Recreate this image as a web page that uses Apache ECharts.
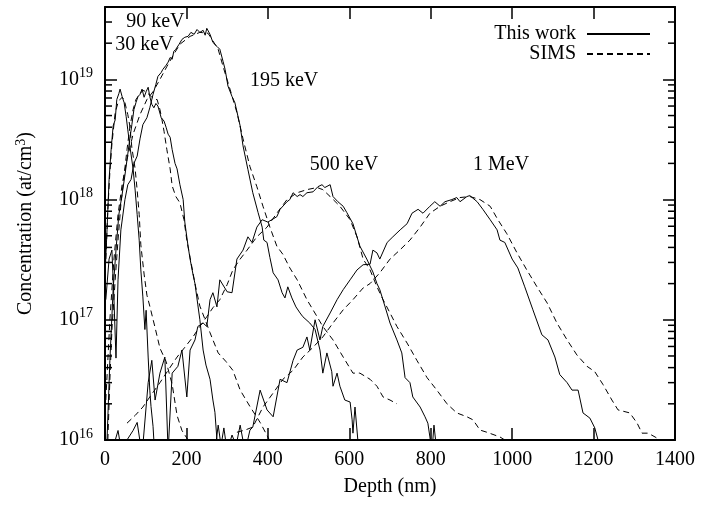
<!DOCTYPE html>
<html>
<head>
<meta charset="utf-8">
<script src="https://cdn.jsdelivr.net/npm/echarts@6/dist/echarts.min.js"></script>
<style>
  html, body { margin: 0; padding: 0; background: #fff; }
  #chart { width: 714px; height: 507px; }
</style>
</head>
<body>
<div id="chart"></div>
<script>
// Arsenic depth profiles: [depth (nm), concentration (at/cm^3)]
const thisWork30 = [[0,2.4e17],[5,5.6e17],[10,1.47e18],[15,2.6e18],[20,4.1e18],[25,4.6e18],[29,6.8e18],[34,7.6e18],[37,8.3e18],[42,7.2e18],[47,6.4e18],[52,4.9e18],[56,3.8e18],[61,2.8e18],[69,1.8e18],[74,1.2e18],[79,7.5e17],[84,4.6e17],[88,2.6e17],[93,1.55e17],[98,8.3e16],[101,1.2e17],[106,4.9e16],[110,2.6e16],[113,1.9e16],[118,1.3e16],[120,1.0e16],[125,8e15]];
const sims30 = [[2,3.2e17],[7,8.3e17],[12,1.7e18],[17,2.9e18],[25,5.3e18],[32,6.4e18],[37,6.8e18],[42,7.1e18],[47,6.8e18],[52,5.8e18],[56,5.1e18],[61,4.1e18],[66,2.7e18],[74,1.8e18],[79,1.2e18],[84,7.5e17],[88,4.2e17],[96,2.4e17],[103,1.6e17],[110,1.3e17],[123,8.6e16],[135,5.8e16],[150,4.5e16],[165,2.9e16],[177,1.6e16],[189,1.2e16],[204,1.0e16]];

const thisWork90 = [[5,1.0e16],[12,4.6e16],[20,1.8e17],[27,3.8e17],[34,7.5e17],[42,1.1e18],[49,1.6e18],[56,2.4e18],[61,3.2e18],[66,4.2e18],[71,5.6e18],[76,6.4e18],[81,7.2e18],[86,7.5e18],[91,8.3e18],[96,7.1e18],[101,7.9e18],[106,8.6e18],[110,7.2e18],[115,6.2e18],[120,5.8e18],[125,6.3e18],[130,6.0e18],[138,4.8e18],[145,4.5e18],[150,4.0e18],[155,3.5e18],[160,3.3e18],[165,2.6e18],[172,2.0e18],[177,1.8e18],[184,1.33e18],[192,1.0e18],[196,6.5e17],[204,4.1e17],[209,3.2e17],[216,2.4e17],[221,2.0e17],[228,1.33e17],[233,1.0e17],[241,5.6e16],[248,4.2e16],[258,3.2e16],[265,2.15e16],[270,1.7e16],[275,1.0e16],[278,7.5e15]];
const sims90 = [[7,1.0e16],[12,3.2e16],[17,8.3e16],[25,2.15e17],[32,4.6e17],[39,9.1e17],[47,1.6e18],[54,2.6e18],[61,4.0e18],[69,5.6e18],[76,6.8e18],[86,7.6e18],[93,8.1e18],[101,7.9e18],[108,7.5e18],[115,7.1e18],[123,6.8e18],[128,6.8e18],[135,5.6e18],[140,4.6e18],[145,3.7e18],[152,2.6e18],[160,1.8e18],[165,1.3e18],[174,1.06e18],[184,9.4e17],[194,6.8e17],[201,4.6e17],[209,3.3e17],[221,2.0e17],[233,1.3e17],[246,1.0e17],[258,7.8e16],[278,5.3e16],[297,4.5e16],[314,3.8e16],[332,2.6e16],[356,1.9e16],[381,1.4e16],[400,1.06e16],[405,9.8e15]];

const thisWork195 = [[2,1.47e17],[10,3.2e17],[17,3.8e17],[22,1.47e17],[27,4.8e16],[32,2.15e17],[39,5.6e17],[49,1.0e18],[56,1.33e18],[64,1.47e18],[71,2.0e18],[79,2.3e18],[86,3.2e18],[93,4.2e18],[103,4.8e18],[110,5.8e18],[118,7.5e18],[125,9.1e18],[130,1.06e19],[138,1.14e19],[142,1.21e19],[150,1.31e19],[155,1.39e19],[160,1.52e19],[165,1.47e19],[169,1.71e19],[174,1.78e19],[182,1.96e19],[189,2.15e19],[196,2.24e19],[204,2.28e19],[211,2.46e19],[219,2.37e19],[226,2.6e19],[233,2.46e19],[241,2.56e19],[246,2.33e19],[250,2.66e19],[258,2.37e19],[265,2.03e19],[275,1.88e19],[282,1.78e19],[290,1.41e19],[295,1.21e19],[302,8.8e18],[312,7.2e18],[319,6.4e18],[332,4.1e18],[339,2.8e18],[351,1.78e18],[363,1.14e18],[376,7.8e17],[386,5.9e17],[390,4.6e17],[398,4.4e17],[405,3.3e17],[413,2.46e17],[425,2.15e17],[435,1.68e17],[442,1.52e17],[449,1.88e17],[459,1.52e17],[469,1.28e17],[479,1.14e17],[486,1.06e17],[503,9.4e16],[516,8.3e16],[528,5.6e16],[535,3.6e16],[545,5.3e16],[557,3.7e16],[560,2.8e16],[570,3.6e16],[577,2.8e16],[589,2.15e16],[602,2.07e16],[607,1.47e16],[609,1.14e16],[614,1.88e16],[621,1.0e16],[624,7.5e15]];
const sims195 = [[2,2.15e16],[12,1.0e17],[22,3.2e17],[32,7.5e17],[42,1.33e18],[54,2.15e18],[69,3.5e18],[86,5.1e18],[103,6.8e18],[118,7.9e18],[135,1.0e19],[152,1.28e19],[169,1.62e19],[184,1.96e19],[209,2.28e19],[233,2.46e19],[253,2.42e19],[258,2.28e19],[278,1.78e19],[290,1.28e19],[307,8.3e18],[324,5.3e18],[339,3.2e18],[356,1.88e18],[373,1.28e18],[388,8.8e17],[405,5.9e17],[422,4.1e17],[437,3.5e17],[454,2.7e17],[472,2.15e17],[496,1.47e17],[521,1.06e17],[535,8.8e16],[560,6.8e16],[585,4.9e16],[609,3.6e16],[626,3.6e16],[651,3.2e16],[668,2.8e16],[683,2.28e16],[700,2.15e16],[717,2.0e16]];

const thisWork500 = [[17,8e15],[32,1.2e16],[42,7.5e15],[54,1.0e16],[69,1.2e16],[79,1.4e16],[91,7.5e15],[106,3.0e16],[115,4.6e16],[123,2.15e16],[135,3.6e16],[147,4.9e16],[155,8e15],[165,3.6e16],[179,4.1e16],[189,5.6e16],[201,2.28e16],[209,5.6e16],[221,6.8e16],[228,8.8e16],[241,9.4e16],[250,8.8e16],[258,1.47e17],[265,1.68e17],[275,1.28e17],[282,2.15e17],[300,1.71e17],[312,1.68e17],[324,3.2e17],[339,3.8e17],[351,4.9e17],[361,4.4e17],[373,5.9e17],[386,6.8e17],[400,6.5e17],[422,7.2e17],[430,8.3e17],[447,9.6e17],[454,1.0e18],[462,1.14e18],[472,1.06e18],[479,1.1e18],[486,1.06e18],[496,1.14e18],[511,1.16e18],[523,1.28e18],[533,1.33e18],[540,1.26e18],[553,1.33e18],[560,1.06e18],[572,9.6e17],[585,8.8e17],[594,7.8e17],[609,6.3e17],[626,4.1e17],[643,3.2e17],[651,2.8e17],[658,2.5e17],[668,2.0e17],[675,1.78e17],[688,1.28e17],[700,9.4e16],[717,6.8e16],[729,5.3e16],[737,3.3e16],[749,3.0e16],[756,2.28e16],[774,1.88e16],[786,1.56e16],[793,1.38e16],[798,1.06e16],[803,8e15],[808,1.33e16],[815,8e15]];
const sims500 = [[54,1.38e16],[74,1.6e16],[93,1.88e16],[110,2.28e16],[135,3.0e16],[155,3.8e16],[177,4.9e16],[196,5.9e16],[216,7.2e16],[233,8.8e16],[250,1.06e17],[265,1.26e17],[282,1.47e17],[300,1.96e17],[314,2.6e17],[332,3.2e17],[349,3.8e17],[373,4.9e17],[398,5.9e17],[422,7.7e17],[447,1.0e18],[472,1.14e18],[496,1.21e18],[521,1.26e18],[535,1.21e18],[553,1.06e18],[577,8.8e17],[602,6.8e17],[619,4.9e17],[634,3.2e17],[651,2.6e17],[668,1.88e17],[683,1.47e17],[700,1.14e17],[717,8.8e16],[742,6.4e16],[766,4.6e16],[791,3.3e16],[815,2.6e16],[840,2.0e16],[864,1.68e16],[889,1.56e16],[904,1.47e16],[921,1.21e16],[938,1.16e16],[970,1.06e16],[982,1.0e16]];

const thisWork1MeV = [[270,8e15],[278,1.33e16],[285,9e15],[292,1.26e16],[300,8e15],[312,1.1e16],[322,9e15],[332,1.33e16],[344,8e15],[356,1.21e16],[363,1.28e16],[381,2.6e16],[398,1.78e16],[413,1.56e16],[430,3.2e16],[447,3.0e16],[462,4.6e16],[472,5.6e16],[486,5.9e16],[496,7.2e16],[503,5.6e16],[516,1.0e17],[528,6.8e16],[535,8.8e16],[553,1.14e17],[570,1.47e17],[585,1.78e17],[602,2.15e17],[619,2.6e17],[634,2.87e17],[651,2.9e17],[658,3.8e17],[668,3.6e17],[675,3.2e17],[693,4.4e17],[707,4.9e17],[725,5.6e17],[742,6.3e17],[754,7.7e17],[769,8.3e17],[781,7.7e17],[798,8.8e17],[810,9.6e17],[823,8.8e17],[835,9.6e17],[852,1.0e18],[864,1.04e18],[872,9.6e17],[889,1.06e18],[896,1.08e18],[914,9.6e17],[928,8.3e17],[946,6.8e17],[963,5.6e17],[970,4.6e17],[982,4.4e17],[1000,3.2e17],[1014,2.7e17],[1031,1.88e17],[1051,1.21e17],[1073,7.5e16],[1088,6.8e16],[1105,4.9e16],[1117,3.5e16],[1135,3.0e16],[1147,2.6e16],[1162,2.6e16],[1174,1.68e16],[1191,1.52e16],[1203,1.26e16],[1211,1.0e16],[1216,8.5e15]];
const sims1MeV = [[324,1.16e16],[344,1.21e16],[363,1.28e16],[388,1.88e16],[413,2.46e16],[437,3.2e16],[462,3.8e16],[486,4.9e16],[511,5.9e16],[535,7.2e16],[560,9.4e16],[585,1.21e17],[609,1.47e17],[634,1.84e17],[651,2.0e17],[675,2.46e17],[700,3.2e17],[724,3.8e17],[749,4.6e17],[774,5.9e17],[798,7.7e17],[823,8.8e17],[847,9.6e17],[872,1.04e18],[896,1.06e18],[921,1.0e18],[946,8.8e17],[965,6.8e17],[987,5.2e17],[1012,3.6e17],[1036,2.6e17],[1061,1.88e17],[1086,1.38e17],[1110,9.4e16],[1135,6.8e16],[1159,5.1e16],[1184,4.1e16],[1203,3.7e16],[1223,2.9e16],[1245,2.15e16],[1260,1.78e16],[1289,1.68e16],[1307,1.38e16],[1319,1.14e16],[1334,1.14e16],[1351,1.06e16],[1363,1.0e16]];

// Implant energy annotations, anchored in data space [depth, concentration]
const energyLabels = [
  { text: '90 keV',  at: [52, 3.0e19] },
  { text: '30 keV',  at: [25, 1.95e19] },
  { text: '195 keV', at: [356, 9.7e18] },
  { text: '500 keV', at: [503, 1.95e18] },
  { text: '1 MeV',   at: [904, 1.95e18] }
];

// Axis ranges and tick values
const depthRange = [0, 1400];
const depthStep = 200;
const concRange = [1e16, 4e19];
const minorConcTicks = [2e16,3e16,4e16,5e16,6e16,7e16,8e16,9e16,
                        2e17,3e17,4e17,5e17,6e17,7e17,8e17,9e17,
                        2e18,3e18,4e18,5e18,6e18,7e18,8e18,9e18,
                        2e19,3e19];

const FONT = 'Liberation Serif';

const profiles = [
  ['This work', thisWork30, 'solid'], ['SIMS', sims30, 'dashed'],
  ['This work', thisWork90, 'solid'], ['SIMS', sims90, 'dashed'],
  ['This work', thisWork195, 'solid'], ['SIMS', sims195, 'dashed'],
  ['This work', thisWork500, 'solid'], ['SIMS', sims500, 'dashed'],
  ['This work', thisWork1MeV, 'solid'], ['SIMS', sims1MeV, 'dashed']
];

const lineSeries = profiles.map(([name, data, kind]) => ({
  type: 'line',
  name: name,
  data: data,
  symbol: 'none',
  clip: true,
  silent: true,
  z: 3,
  itemStyle: { color: '#000' },
  lineStyle: { color: '#000', width: 1, type: kind === 'dashed' ? [6, 4] : 'solid' }
}));

const chart = echarts.init(document.getElementById('chart'), null, { renderer: 'canvas' });

const expLabel = v => '{b|10}{s|' + Math.round(Math.log10(v)) + '}';

const frameLine = { onZero: false, lineStyle: { color: '#000', width: 2 } };
const majorTick = { inside: true, length: 12, lineStyle: { color: '#000', width: 1.5 } };

chart.setOption({
  animation: false,
  backgroundColor: '#fff',
  textStyle: { fontFamily: FONT, color: '#000' },
  grid: { left: 105, right: 39, top: 7, bottom: 67, containLabel: false },
  legend: {
    data: ['This work', 'SIMS'],
    orient: 'vertical',
    right: 58,
    top: 19,
    align: 'right',
    itemWidth: 63,
    itemHeight: 12,
    itemGap: 0,
    selectedMode: false,
    itemStyle: { opacity: 0 },
    textStyle: { fontFamily: FONT, fontSize: 20, color: '#000', padding: [0, 6, 0, 0] }
  },
  xAxis: [
    {
      type: 'value', min: depthRange[0], max: depthRange[1], interval: depthStep,
      position: 'bottom',
      name: 'Depth (nm)', nameLocation: 'middle', nameGap: 37,
      nameTextStyle: { fontFamily: FONT, fontSize: 20, color: '#000' },
      axisLine: frameLine,
      axisTick: majorTick,
      axisLabel: { fontFamily: FONT, fontSize: 20, color: '#000', margin: 10, formatter: v => String(v) },
      splitLine: { show: false }
    },
    {
      type: 'value', min: depthRange[0], max: depthRange[1], interval: depthStep,
      position: 'top',
      axisLine: frameLine,
      axisTick: majorTick,
      axisLabel: { show: false },
      splitLine: { show: false }
    }
  ],
  yAxis: [
    {
      type: 'log', logBase: 10, min: concRange[0], max: concRange[1],
      position: 'left',
      name: 'Concentration (at/cm{s|3})', nameLocation: 'middle', nameGap: 67,
      nameRotate: 90,
      nameTextStyle: {
        fontFamily: FONT, fontSize: 20, color: '#000',
        rich: { s: { fontFamily: FONT, fontSize: 14, padding: [0, 0, 10, 0] } }
      },
      axisLine: frameLine,
      axisTick: majorTick,
      axisLabel: {
        margin: 12, showMaxLabel: false,
        formatter: expLabel,
        rich: {
          b: { fontFamily: FONT, fontSize: 20, color: '#000' },
          s: { fontFamily: FONT, fontSize: 14, color: '#000', padding: [0, 0, 12, 0] }
        }
      },
      splitLine: { show: false }
    },
    {
      type: 'log', logBase: 10, min: concRange[0], max: concRange[1],
      position: 'right',
      axisLine: frameLine,
      axisTick: majorTick,
      axisLabel: { show: false },
      splitLine: { show: false }
    }
  ],
  series: [
    ...lineSeries,
    {
      // minor decade ticks on both vertical borders
      type: 'custom',
      name: 'minor ticks',
      silent: true,
      clip: false,
      z: 4,
      data: minorConcTicks.map(v => [depthRange[0], v]),
      renderItem: function (params, api) {
        const v = api.value(1);
        const l = api.coord([depthRange[0], v]);
        const r = api.coord([depthRange[1], v]);
        const st = { stroke: '#000', lineWidth: 1.5 };
        return {
          type: 'group',
          children: [
            { type: 'line', shape: { x1: l[0], y1: l[1], x2: l[0] + 7, y2: l[1] }, style: st },
            { type: 'line', shape: { x1: r[0] - 7, y1: r[1], x2: r[0], y2: r[1] }, style: st }
          ]
        };
      }
    },
    {
      type: 'scatter',
      name: 'energies',
      silent: true,
      symbolSize: 0,
      z: 5,
      itemStyle: { opacity: 1 },
      data: energyLabels.map(d => ({ value: d.at, label: { formatter: d.text } })),
      label: {
        show: true, position: 'right', distance: 0, opacity: 1,
        fontFamily: FONT, fontSize: 20, color: '#000'
      }
    }
  ]
});
</script>
</body>
</html>
